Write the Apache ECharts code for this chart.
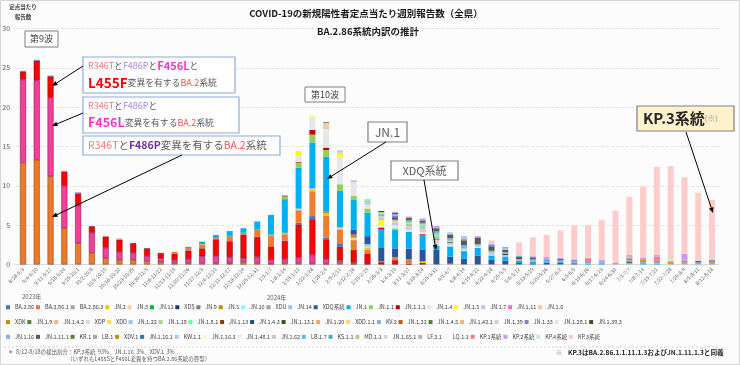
<!DOCTYPE html>
<html><head><meta charset="utf-8">
<script src="https://cdn.jsdelivr.net/npm/echarts@6/dist/echarts.min.js"></script>
<style>html,body{margin:0;padding:0;background:#fcfcfc}#c{width:740px;height:365px}</style>
</head><body><div id="c"></div>
<script>
const weeks = ['8/28-9/3','9/4-9/10','9/11-9/17','9/18-9/24','9/25-10/1','10/2-10/8','10/9-10/15','10/16-10/22','10/23-10/29','10/30-11/5','11/6-11/12','11/13-11/19','11/20-11/26','11/27-12/3','12/4-12/10','12/11-12/17','12/18-12/24','12/25-12/31','1/1-1/7','1/8-1/14','1/15-1/21','1/22-1/28','1/29-2/4','2/5-2/11','2/12-2/18','2/19-2/25','2/26-3/3','3/4-3/10','3/11-3/17','3/18-3/24','3/25-3/31','4/1-4/7','4/8-4/14','4/15-4/21','4/22-4/28','4/29-5/5','5/6-5/12','5/13-5/19','5/20-5/26','5/27-6/2','6/3-6/9','6/10-6/16','6/17-6/23','6/24-6/30','7/1-7/7','7/8-7/14','7/15-7/21','7/22-7/28','7/29-8/4','8/5-8/11','8/12-8/18'];
const N = weeks.length;
function span(start, vals){ const a = new Array(N).fill(null); vals.forEach((v,k)=>{ a[start+k]=v; }); return a; }
function at(pairs){ const a = new Array(N).fill(null); pairs.forEach(p=>{ a[p[0]]=p[1]; }); return a; }

// XBB lineages (9th wave), not in legend
const xbbR346T = span(0,[12.9,13.3,11.2,4.6,2.7,1.5,.8,.6,.6,.45,.3,.2,.2,.2,.2,.15,.3,.2,.1,.2,.2,.15,.1,.25,.1]);
const xbbF456L = span(0,[10.6,10.1,10.0,5.4,4.8,2.55,1.35,1.0,.9,.65,.5,.4,.5,.85,.9,.8,.5,.8,.5,.5,.7,1.1,.6,.3,.2,.1]);
const xbbL455F = span(0,[1.0,2.5,2.7,1.8,1.5,.8,1.4,1.55,1.2,.95,.65,.75,1.05,1.0,2.1,2.0,3.0,2.5,1.7,2.3,4.2,4.5,2.5,1.7,1.55,1.3,.3,.55,.1,.2]);

// BA.2.86 lineages
const BA_2_86 = at([[0,.1],[1,.1],[2,.1],[3,.05],[4,.15],[5,.05],[9,.05],[12,.05],[19,.05],[20,.2],[21,.4],[22,.2],[23,.35]]);
const BA_2_86_1 = span(11,[.25,.3,.5,.15,.6,.2,.95,1.4,.8,1.6,3.15,2.8,1.8,1.25,.5,.1,.4,.6,null,null,.1]);
const BA_2_86_3 = at([[6,.05],[7,.15],[18,.1]]);
const JN_2 = at([[13,.05],[21,.2],[22,.3],[23,.1],[25,.2],[29,.2]]);
const JN_3 = at([[19,.1],[20,.2],[21,.15],[23,.2],[24,.3]]);
const JN_11 = at([[14,.1],[15,.1],[16,.05],[17,.05],[19,.1]]);
const XDS = at([]);
const JN_9 = at([]);
const JN_5 = at([[22,.2],[24,.4]]);
const JN_10 = at([[25,.2]]);
const XDU = at([]);
const JN_14 = at([[25,.3]]);
const XDQ = span(24,[.6,1.0,1.7,1.1,1.3,1.45,1.9,.9,.75,1.1,.6,.5,.2,.15,.2,.2,.15]);
const JN_1 = span(12,[.15,.3,.3,.6,.55,.9,2.5,4.25,5.2,5.85,7.0,4.65,3.8,3.0,2.35,2.35,2.15,1.9,.5,1.3,.95,1.0,.55,.45,.25,.25,.1,.1,.1,.1,.15,null,null,.15,.1]);
const JN_1_1 = at([[17,.1],[19,.35],[20,.6],[21,1.0],[22,.85],[23,.85],[24,.5],[25,.5],[27,.2]]);
const JN_1_1_1 = at([[19,.1],[20,.1],[21,.6],[22,.3],[26,.25],[29,.1]]);
const JN_1_4 = span(20,[.9,1.7,2.35,3.5,1.75,.5,.3,.4,.3,.3,.2,.2,.15,.1,.1]);
const JN_1_5 = at([[20,.5],[21,.1],[23,.5],[26,.65],[30,.15]]);
const JN_1_7 = span(23,[.3,.25,.3,.3,.3,.2,.2,.2,.25,.2,.1,.2,.15,.05,.05]);
const JN_1_11 = at([]);
const JN_1_6 = at([[22,.8],[26,.2],[27,.2],[28,.15],[29,.2],[30,.2]]);
const XDK = at([]);
const JN_1_9 = at([[22,.1],[26,.1],[30,.15],[31,.15]]);
const JN_1_4_2 = at([]);
const XDP = at([]);
const XDD = at([]);
const JN_1_22 = at([[25,.2],[26,.2],[28,.2],[29,.2],[30,.2]]);
const JN_1_18 = at([[27,.2],[28,.2],[29,.2],[30,.2],[31,.15],[33,.1],[34,.1],[35,.1]]);
const JN_1_8_1 = at([[25,.2],[26,.2],[28,.2],[29,.15],[30,.2]]);
const JN_1_13 = at([[26,.15]]);
const JN_1_4_3 = at([[27,.2]]);
const JN_1_13_1 = at([[27,.1]]);
const JN_1_20 = at([]);
const XDD_1_1 = at([]);
const KV_2 = at([]);
const JN_1_32 = at([]);
const JN_1_4_5 = at([]);
const JN_1_42_1 = at([]);
const JN_1_39 = at([]);
const JN_1_33 = at([[27,.2]]);
const JN_1_28_1 = at([]);
const JN_1_39_3 = at([[35,.15]]);
const JN_1_16 = span(27,[.2,.2,.2,.3,.3,.4,.2,.2,.2,.2,.2,.15,.2,.2,.2,.15,.1,.2,.2,.2,.2,.2,.25,.25]);
const JN_1_11_1 = at([[27,.2],[28,.3],[29,.3],[30,.4],[31,.4],[32,.6],[33,.8],[34,.55],[35,.35],[36,.3],[37,.25],[39,.05],[44,.2]]);
const KR_1 = at([]);
const LB_1 = at([[31,.15],[44,.15],[48,.1]]);
const XDV_1 = at([[43,.1],[44,.2],[45,.3],[46,.2],[47,.15],[48,.2],[50,.25]]);
const JN_1_16_1 = at([[32,.15],[34,.15],[38,.1],[39,.2],[40,.1],[41,.1],[49,.2],[50,.1]]);
const KW_1_1 = at([[31,.2],[32,.3],[35,.15]]);
const JN_1_16_3 = at([]);
const JN_1_48_1 = at([]);
const JN_1_62 = at([]);
const LB_1_7 = at([]);
const KS_1_1 = at([[30,.1],[33,.1],[34,.1],[35,.15],[36,.1],[37,.1],[44,.1]]);
const MD_1_1 = at([[44,.1],[47,.1]]);
const JN_1_65_1 = at([]);
const LF_3_1 = at([]);
const LQ_1_1 = at([]);
const KP_1 = at([[41,.4],[44,.1],[46,.5]]);
const KP_2 = at([[27,.1],[28,.2],[29,.25],[30,.2],[32,.1],[33,.1],[34,.1],[36,.05],[37,.1],[38,.4],[39,.1],[40,.1],[41,.05],[42,.3],[43,.05],[44,.15],[45,.25],[46,.2],[48,.85]]);
const KP_4 = at([[47,.15]]);
const KP_3 = span(34,[.4,.05,1.65,2.35,2.8,3.45,4.3,4.15,5.05,6.6,7.4,9.0,11.2,11.9,9.75,8.65,7.6]);

const lineages = [
 ['BA.2.86',BA_2_86,'#4472C4'],['BA.2.86.1',BA_2_86_1,'#ED7D31'],['BA.2.86.3',BA_2_86_3,'#A5A5A5'],['JN.2',JN_2,'#FFC000'],
 ['JN.3',JN_3,'#F8CBAD'],['JN.11',JN_11,'#00B050'],['XDS',XDS,'#203864'],['JN.9',JN_9,'#7F7F7F'],['JN.5',JN_5,'#BF9000'],
 ['JN.10',JN_10,'#7FFFFF'],['XDU',XDU,'#A0A0A0'],['JN.14',JN_14,'#9DC3E6'],['XDQ系統',XDQ,'#2F5597'],['JN.1',JN_1,'#00B0F0'],
 ['JN.1.1',JN_1_1,'#92D050'],['JN.1.1.1',JN_1_1_1,'#C00000'],['JN.1.4',JN_1_4,'#E7E6E6'],['JN.1.5',JN_1_5,'#FFFF00'],
 ['JN.1.7',JN_1_7,'#B4C7E7'],['JN.1.11',JN_1_11,'#FF66CC'],['JN.1.6',JN_1_6,'#F4C7A8'],
 ['XDK',XDK,'#BF8F00'],['JN.1.9',JN_1_9,'#548235'],['JN.1.4.2',JN_1_4_2,'#F4B183'],['XDP',XDP,'#D9D9D9'],['XDD',XDD,'#FFD966'],
 ['JN.1.22',JN_1_22,'#9DC3E6'],['JN.1.18',JN_1_18,'#A9D18E'],['JN.1.8.1',JN_1_8_1,'#66FF99'],['JN.1.13',JN_1_13,'#843C0C'],
 ['JN.1.4.3',JN_1_4_3,'#1F4E79'],['JN.1.13.1',JN_1_13_1,'#375623'],['JN.1.20',JN_1_20,'#F4A460'],['XDD.1.1',XDD_1_1,'#FFD966'],
 ['KV.2',KV_2,'#8FAADC'],['JN.1.32',JN_1_32,'#C55A11'],['JN.1.4.5',JN_1_4_5,'#548235'],['JN.1.42.1',JN_1_42_1,'#F4B183'],
 ['JN.1.39',JN_1_39,'#D0CECE'],['JN.1.33',JN_1_33,'#8E7CC3'],['JN.1.28.1',JN_1_28_1,'#EDE4DC'],['JN.1.39.3',JN_1_39_3,'#385723'],
 ['JN.1.16',JN_1_16,'#8FAADC'],['JN.1.11.1',JN_1_11_1,'#595959'],['KR.1',KR_1,'#548235'],['LB.1',LB_1,'#A5A5A5'],
 ['XDV.1',XDV_1,'#BF9000'],['JN.1.16.1',JN_1_16_1,'#2E75B6'],['KW.1.1',KW_1_1,'#B4C7E7'],['JN.1.16.3',JN_1_16_3,'#FFF2CC'],
 ['JN.1.48.1',JN_1_48_1,'#EDEDED'],['JN.1.62',JN_1_62,'#C9C9C9'],['LB.1.7',LB_1_7,'#5BC0F8'],['KS.1.1',KS_1_1,'#4BACC6'],
 ['MD.1.1',MD_1_1,'#A9D18E'],['JN.1.65.1',JN_1_65_1,'#D9D2E9'],['LF.3.1',LF_3_1,'#B7B7A4'],['LQ.1.1',LQ_1_1,'#F2F8E8'],
 ['KP.1系統',KP_1,'#FF7C80'],['KP.2系統',KP_2,'#CC99FF'],['KP.4系統',KP_4,'#C6EFCE'],['KP.3系統',KP_3,'#FFCCCC']
];
const xbb = [
 ['R346T+F486P',xbbR346T,'#E97A2E','#7a3a12'],
 ['F456L',xbbF456L,'#F0409A','#6a1040'],
 ['L455F',xbbL455F,'#FF0000','#6a0a0a']
];

const FF = "'Noto Sans CJK JP', sans-serif";
const series = [];
xbb.forEach(s => series.push({name:s[0],type:'bar',stack:'t',data:s[1],barWidth:6,
  itemStyle:{color:s[2],borderColor:s[3],borderWidth:0.5}}));
lineages.forEach(s => series.push({name:s[0],type:'bar',stack:'t',data:s[1],barWidth:6,itemStyle:{color:s[2]}}));

const names = lineages.map(l=>l[0]);
const rows = [names.slice(0,21), names.slice(21,42), names.slice(42)];
const legends = rows.map((r,i)=>({
  data:r, left:6, top:304.5+i*14.8, orient:'horizontal', width:736, padding:0,
  icon:'rect', itemWidth:4, itemHeight:4, itemGap:1.85, selectedMode:false,
  formatter: n => '{a|'+n+'}',
  textStyle:{fontFamily:FF, fontSize:5.5, color:'#404040', rich:{a:{width:24, fontSize:5.5, color:'#404040', fontFamily:FF}}}
}));

function arrow(x1,y1,x2,y2){
  const a=Math.atan2(y2-y1,x2-x1), L=5.5, W=2.3;
  const bx=x2-L*Math.cos(a), by=y2-L*Math.sin(a);
  const px=-Math.sin(a)*W, py=Math.cos(a)*W;
  return [{type:'line',z:100,shape:{x1:x1,y1:y1,x2:bx,y2:by},style:{stroke:'#000',lineWidth:1}},
          {type:'polygon',z:100,shape:{points:[[x2,y2],[bx+px,by+py],[bx-px,by-py]]},style:{fill:'#000'}}];
}
function box(x,y,w,h,stroke,fill,lw){ return {type:'rect',z:99,shape:{x:x,y:y,width:w,height:h},style:{fill:fill||'#fff',stroke:stroke,lineWidth:lw||1}}; }
function txt(x,y,text,rich){ return {type:'text',z:101,x:x,y:y,style:{text:text,rich:rich,fontFamily:FF,verticalAlign:'middle',align:'left'}}; }

const RICH = {
  r:{fill:'#F07C7C',fontSize:9,fontFamily:FF},
  g:{fill:'#595959',fontSize:8.8,fontFamily:FF},
  p:{fill:'#A58BD8',fontSize:9,fontFamily:FF},
  m:{fill:'#FF33CC',fontSize:11,fontWeight:'bold',fontFamily:FF},
  M:{fill:'#FF33CC',fontSize:12.5,fontWeight:'bold',fontFamily:FF},
  L:{fill:'#FF0000',fontSize:13.5,fontWeight:'bold',fontFamily:FF},
  b:{fill:'#FF5050',fontSize:9,fontFamily:FF},
  r3:{fill:'#F07C7C',fontSize:10.5,fontFamily:FF},
  g3:{fill:'#595959',fontSize:10.5,fontFamily:FF},
  P3:{fill:'#7030A0',fontSize:10.5,fontWeight:'bold',fontFamily:FF},
  b3:{fill:'#FF5050',fontSize:10.5,fontFamily:FF}
};
function plain(x,y,text,size,fill,align,weight){ return {type:'text',z:101,x:x,y:y,style:{text:text,fontFamily:FF,fontSize:size,fill:fill,align:align||'left',verticalAlign:'middle',fontWeight:weight||'normal'}}; }

const graphics = [
  {type:'rect',z:0,shape:{x:0.5,y:0.5,width:739,height:364},style:{fill:'none',stroke:'#D6D6D6',lineWidth:1}},
  plain(23,7,'定点当たり',5.5,'#404040','center','bold'),
  plain(23,16.5,'報告数',5.5,'#404040','center','bold'),
  plain(22,297,'2023年',6,'#595959'),
  plain(267,298,'2024年',6,'#595959'),
  box(25,31,33,16,'#7F7F7F'),
  plain(41.5,39,'第9波',9,'#404040','center'),
  box(305,87,40,15,'#7F7F7F'),
  plain(325,94.5,'第10波',9,'#404040','center'),
  box(83,57,152,36,'#8FAADC','#fff',1.2),
  txt(88,65.5,'{r|R346T}{g|と}{p|F486P}{g|と}{m|F456L}{g|と}',RICH),
  txt(88,83,'{L|L455F}{g|変異を有する}{b|BA.2}{g|系統}',RICH),
  box(83,97,156,36,'#8FAADC','#fff',1.2),
  txt(88,105.5,'{r|R346T}{g|と}{p|F486P}{g|と}',RICH),
  txt(88,122.5,'{M|F456L}{g|変異を有する}{b|BA.2}{g|系統}',RICH),
  box(83,136,197,19,'#8FAADC','#fff',1.2),
  txt(88,145.5,'{r3|R346T}{g3|と}{P3|F486P}{g3|変異を有する}{b3|BA.2}{g3|系統}',RICH),
  box(368,122,39,20,'#808080','#fff',1.2),
  plain(387.5,132,'JN.1',12,'#595959','center'),
  box(391,161,67,19,'#808080','#fff',1.2),
  plain(424.5,170.5,'XDQ系統',11,'#595959','center'),
  box(637,106,97,25,'#7F7F7F','#FFF2CC',1.2),
  txt(643,118.5,'{k|KP.3系統}{s|(※)}',{k:{fontSize:15,fontWeight:'bold',fill:'#262626',fontFamily:FF},s:{fontSize:7.5,fill:'#8C8C8C',fontFamily:FF}}),
  {type:'line',z:100,shape:{x1:4,y1:347,x2:718,y2:347},style:{stroke:'#C8C8C8',lineWidth:0.8,lineDash:[2,2]}},
  plain(8,352,'＊  8/12-8/18の検出割合：KP.3系統  93%、JN.1.16  3%、XDV.1  3%',5.5,'#595959'),
  plain(67,358.5,'（いずれもL455SとF456L変異を持つBA.2.86系統の亜型）',5.5,'#595959'),
  plain(556,352.5,'※',6,'#7F7F7F'),
  plain(568,352.5,'KP.3はBA.2.86.1.1.11.1.3およびJN.1.11.1.3と同義',6.6,'#262626','left','bold')
].concat(arrow(83,66,52,86), arrow(83,113,52,126), arrow(182,155,52,217), arrow(386,142,327,179), arrow(424,180,436,250), arrow(686,132,713,213));

const chart = echarts.init(document.getElementById('c'), null, {renderer:'canvas'});
chart.setOption({
  animation:false,
  backgroundColor:'#fcfcfc',
  textStyle:{fontFamily:FF},
  title:[
    {text:'COVID-19の新規陽性者定点当たり週別報告数（全県）',left:366,top:9,textAlign:'center',padding:0,textStyle:{fontFamily:FF,fontSize:9.5,fontWeight:'bold',color:'#1a1a1a'}},
    {text:'BA.2.86系統内訳の推計',left:368,top:27,textAlign:'center',padding:0,textStyle:{fontFamily:FF,fontSize:9.5,fontWeight:'bold',color:'#1a1a1a'}}
  ],
  legend:legends,
  grid:{left:16.1,right:21.1,top:28.4,bottom:100.5,containLabel:false,outerBoundsMode:'none'},
  xAxis:{type:'category',data:weeks,
    axisLine:{lineStyle:{color:'#D9D9D9'}},axisTick:{show:false},
    axisLabel:{interval:0,rotate:45,fontSize:5,color:'#595959',margin:4,fontFamily:FF}},
  yAxis:{type:'value',min:0,max:30,interval:5,
    axisLine:{show:false},axisTick:{show:false},
    axisLabel:{fontSize:7,color:'#595959',margin:6,fontFamily:FF},
    splitLine:{lineStyle:{color:'#DADADA',type:[3,2],width:0.8}}},
  series:series,
  graphic:{elements:graphics}
});
</script></body></html>
